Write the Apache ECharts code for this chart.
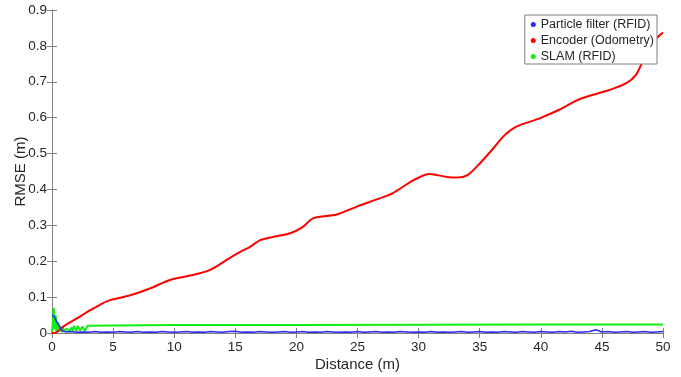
<!DOCTYPE html>
<html>
<head>
    <meta charset="UTF-8">
    <title>RMSE vs distance</title>
    <script src="https://cdn.jsdelivr.net/npm/echarts@6/dist/echarts.min.js"></script>
    <style>
        html, body { margin: 0; padding: 0; background: #fff; }
        #main { width: 681px; height: 377px; }
    </style>
</head>
<body>
<div id="main"></div>
<script>
    // 数据 (从图上读出来的)
    var encoderDist = [0, 0.2, 1, 2, 3.1, 4, 4.7, 6.4, 8, 9.6, 11.3, 12.9, 14.5, 15.4, 16.2, 17, 18, 19.5, 20.5, 21.4, 23.3, 25, 26.8, 27.9, 29.6, 30.9, 32.3, 33.2, 34, 34.8, 36, 37, 38, 39.9, 41.5, 43.2, 45.6, 47, 47.8, 48.4, 49.5, 50];
    var encoderRmse = [0, 0, 0.02, 0.04, 0.063, 0.08, 0.091, 0.105, 0.124, 0.147, 0.16, 0.175, 0.208, 0.226, 0.24, 0.258, 0.267, 0.278, 0.295, 0.32, 0.33, 0.353, 0.375, 0.39, 0.426, 0.443, 0.435, 0.433, 0.44, 0.465, 0.51, 0.55, 0.575, 0.598, 0.622, 0.652, 0.677, 0.696, 0.72, 0.761, 0.822, 0.837];

    var particleDist = [0, 0.1, 0.2, 0.3, 0.4, 0.5, 0.6, 0.7, 0.8, 0.9, 1.0, 1.2,
        1.5, 2, 2.5, 3, 3.5, 4, 4.5, 5, 5.5, 6, 6.5, 7, 7.5, 8, 8.5, 9, 9.5, 10,
        10.5, 11, 11.5, 12, 12.5, 13, 13.5, 14, 14.5, 15, 15.5, 16, 16.5, 17, 17.5, 18, 18.5, 19, 19.5, 20,
        20.5, 21, 21.5, 22, 22.5, 23, 23.5, 24, 24.5, 25, 25.5, 26, 26.5, 27, 27.5, 28, 28.5, 29, 29.5, 30,
        30.5, 31, 31.5, 32, 32.5, 33, 33.5, 34, 34.5, 35, 35.5, 36, 36.5, 37, 37.5, 38, 38.5, 39, 39.5, 40,
        40.5, 41, 41.5, 42, 42.5, 43, 43.5, 44, 44.5, 45, 45.5, 46, 46.5, 47, 47.5, 48, 48.5, 49, 49.5, 50];
    var particleRmse = [0.05, 0.048, 0.045, 0.04, 0.03, 0.025, 0.02, 0.012, 0.008, 0.005, 0.004, 0.003,
        0.004, 0.002, 0.003, 0.002, 0.004, 0.002, 0.003, 0.002, 0.004, 0.003, 0.002, 0.004, 0.002, 0.003, 0.002, 0.004, 0.003, 0.002,
        0.003, 0.004, 0.002, 0.003, 0.002, 0.004, 0.003, 0.002, 0.004, 0.005, 0.002, 0.003, 0.002, 0.004, 0.003, 0.002, 0.003, 0.004, 0.002, 0.003,
        0.004, 0.002, 0.003, 0.002, 0.004, 0.003, 0.002, 0.003, 0.002, 0.004, 0.002, 0.003, 0.004, 0.002, 0.003, 0.002, 0.004, 0.003, 0.002, 0.003,
        0.002, 0.004, 0.002, 0.003, 0.002, 0.003, 0.004, 0.002, 0.003, 0.004, 0.002, 0.003, 0.002, 0.004, 0.003, 0.002, 0.004, 0.003, 0.002, 0.004,
        0.003, 0.002, 0.004, 0.003, 0.005, 0.002, 0.003, 0.004, 0.009, 0.003, 0.004, 0.002, 0.003, 0.004, 0.002, 0.003, 0.004, 0.002, 0.003, 0.004];

    var slamDist = [0, 0.15, 0.2, 0.3, 0.35, 0.5, 0.6, 0.7, 0.8, 0.9, 1.0, 1.2, 1.4, 1.6, 1.7, 1.8, 2.0, 2.1, 2.3, 2.5, 2.7, 2.9, 3.0, 5, 10, 20, 30, 40, 50];
    var slamRmse = [0, 0.07, 0.01, 0.05, 0.002, 0.03, 0.004, 0.018, 0.002, 0.015, 0.005, 0.012, 0.004, 0.015, 0.005, 0.02, 0.005, 0.02, 0.006, 0.018, 0.005, 0.02, 0.021, 0.021, 0.022, 0.022, 0.023, 0.024, 0.024];

    var xTicks = [0, 50, 5];
    var yTicks = [0, 0.9, 0.1];
    var seriesNames = ['Particle filter (RFID)', 'Encoder (Odometry)', 'SLAM (RFID)'];

    function pairs(xs, ys) {
        var out = [];
        for (var i = 0; i < xs.length; i++) out.push([xs[i], ys[i]]);
        return out;
    }

    var axisGray = '#808080';
    var textColor = '#262626';
    var font = 'Liberation Sans, Arial, sans-serif';

    var myChart = echarts.init(document.getElementById('main'));

    function xAxisCfg(pos, labels) {
        return {
            type: 'value', position: pos,
            min: xTicks[0], max: xTicks[1], interval: xTicks[2],
            name: labels ? 'Distance (m)' : '',
            nameLocation: 'middle', nameGap: 24, nameMoveOverlap: false,
            nameTextStyle: { fontSize: 15, color: textColor, fontFamily: font },
            axisLine: { show: true, lineStyle: { color: axisGray, width: 1 } },
            axisTick: { show: true, inside: true, length: 5, lineStyle: { color: axisGray } },
            axisLabel: { show: labels, fontSize: 13.5, color: textColor, fontFamily: font, margin: 7 },
            splitLine: { show: false }
        };
    }
    function yAxisCfg(pos, labels) {
        return {
            type: 'value', position: pos,
            min: yTicks[0], max: yTicks[1], interval: yTicks[2],
            name: labels ? 'RMSE (m)' : '',
            nameLocation: 'middle', nameGap: 24, nameMoveOverlap: false,
            nameTextStyle: { fontSize: 15, color: textColor, fontFamily: font },
            axisLine: { show: true, lineStyle: { color: axisGray, width: 1 } },
            axisTick: { show: true, inside: true, length: 5, lineStyle: { color: axisGray } },
            axisLabel: { show: labels, fontSize: 13.5, color: textColor, fontFamily: font, margin: 5 },
            splitLine: { show: false }
        };
    }

    var option = {
        animation: false,
        backgroundColor: '#fff',
        grid: { left: 52, right: 18, top: 10, bottom: 44, containLabel: false, outerBoundsMode: 'none' },
        legend: {
            orient: 'vertical',
            right: 24, top: 15,
            data: seriesNames,
            icon: 'circle',
            itemWidth: 5, itemHeight: 5, itemGap: 3,
            padding: [3, 3, 1, 6],
            backgroundColor: '#fff',
            borderColor: axisGray, borderWidth: 1,
            textStyle: { fontSize: 12.5, lineHeight: 13, color: textColor, fontFamily: font }
        },
        xAxis: [xAxisCfg('bottom', true), xAxisCfg('top', false)],
        yAxis: [yAxisCfg('left', true), yAxisCfg('right', false)],
        series: [
            {
                name: seriesNames[0], type: 'line', showSymbol: false, z: 4,
                data: pairs(particleDist, particleRmse),
                itemStyle: { color: '#2a2aff' },
                lineStyle: { color: '#2a2aff', width: 1.5 }
            },
            {
                name: seriesNames[1], type: 'line', showSymbol: false, smooth: 0.3, z: 3,
                data: pairs(encoderDist, encoderRmse),
                itemStyle: { color: '#ff0000' },
                lineStyle: { color: '#ff0000', width: 2 }
            },
            {
                name: seriesNames[2], type: 'line', showSymbol: false, z: 2,
                data: pairs(slamDist, slamRmse),
                itemStyle: { color: '#11ee11' },
                lineStyle: { color: '#11ee11', width: 2 }
            }
        ]
    };

    myChart.setOption(option);
</script>
</body>
</html>
